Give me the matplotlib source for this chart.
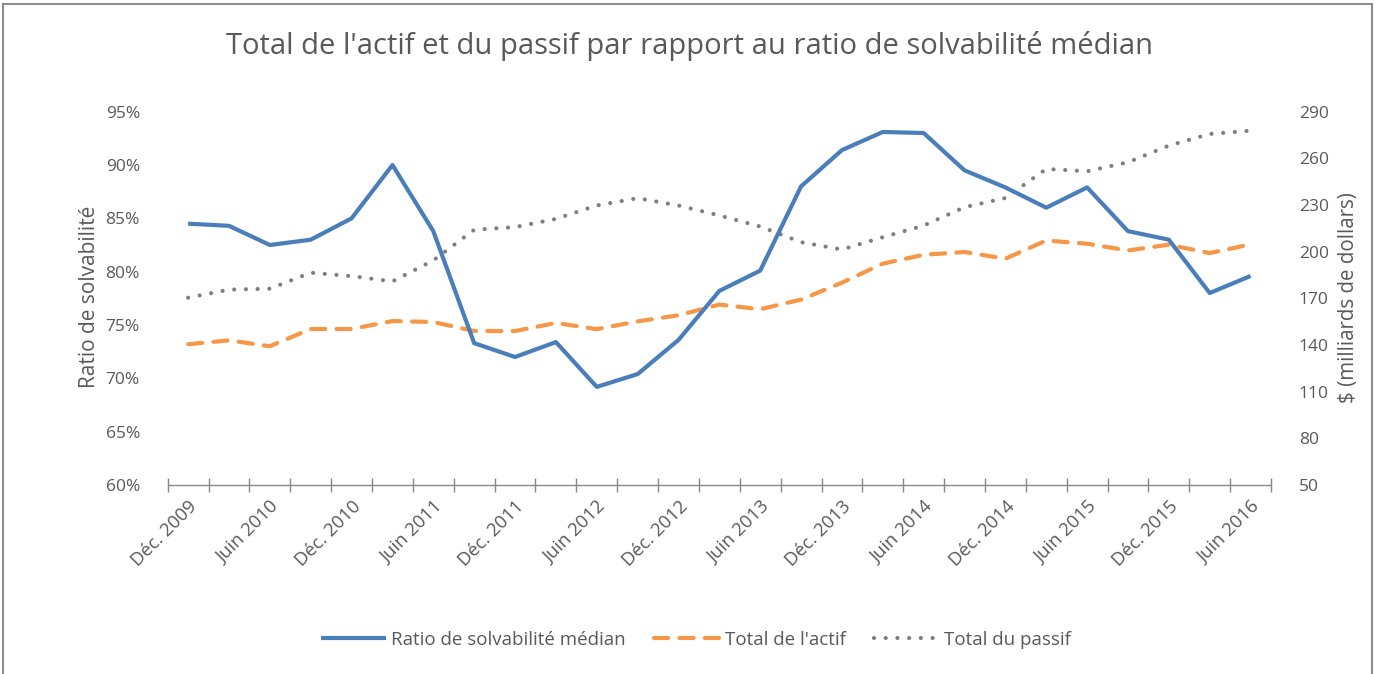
import matplotlib
matplotlib.use("Agg")
import matplotlib.pyplot as plt
from matplotlib.lines import Line2D

plt.rcParams['font.family'] = ['Open Sans', 'DejaVu Sans']

# ---- data ----
quarters = ["Déc. 2009", "Mars 2010", "Juin 2010", "Sept. 2010", "Déc. 2010", "Mars 2011",
            "Juin 2011", "Sept. 2011", "Déc. 2011", "Mars 2012", "Juin 2012", "Sept. 2012",
            "Déc. 2012", "Mars 2013", "Juin 2013", "Sept. 2013", "Déc. 2013", "Mars 2014",
            "Juin 2014", "Sept. 2014", "Déc. 2014", "Mars 2015", "Juin 2015", "Sept. 2015",
            "Déc. 2015", "Mars 2016", "Juin 2016"]
ratio = [84.5, 84.3, 82.5, 83.0, 85.0, 90.0, 83.8, 73.3, 72.0, 73.4, 69.2, 70.4,
         73.6, 78.2, 80.1, 88.0, 91.4, 93.1, 93.0, 89.5, 87.9, 86.0, 87.9, 83.8,
         83.0, 78.0, 79.6]
actif = [140.5, 143.0, 139.2, 150.3, 150.3, 155.4, 154.8, 149.0, 149.0, 154.2, 150.2, 155.2,
         159.1, 166.0, 163.0, 169.2, 180.1, 192.3, 198.0, 199.8, 195.5, 207.2, 205.1, 200.8,
         204.5, 199.1, 204.7]
passif = [170.4, 175.6, 176.2, 186.5, 184.3, 180.9, 194.4, 214.1, 215.8, 221.1, 229.7, 234.4,
          229.7, 223.3, 216.2, 206.1, 201.4, 209.3, 216.8, 228.6, 234.5, 253.2, 251.7, 257.5,
          268.2, 275.7, 277.8]
left_ticks = [60, 65, 70, 75, 80, 85, 90, 95]
right_ticks = [50, 80, 110, 140, 170, 200, 230, 260, 290]

title = "Total de l'actif et du passif par rapport au ratio de solvabilité médian"
names = ["Ratio de solvabilité médian", "Total de l'actif", "Total du passif"]

BLUE = "#4A7EBB"
ORANGE = "#F79646"
GRAY = "#7F7F7F"
TXT = "#595959"
AXC = "#898989"

W, H = 1375, 674
fig = plt.figure(figsize=(W / 100, H / 100), dpi=100)
fig.patch.set_facecolor("white")

x0, x1 = 167.7, 1271
ytop, ybot = 111.7, 485
ax = fig.add_axes([x0 / W, 1 - ybot / H, (x1 - x0) / W, (ybot - ytop) / H])
ax2 = ax.twinx()

xs = list(range(len(quarters)))
lw = 3.0
l1, = ax.plot(xs, ratio, color=BLUE, lw=lw, solid_joinstyle='round', solid_capstyle='butt', zorder=3)
l2, = ax2.plot(xs, actif, color=ORANGE, lw=lw, linestyle=(0, (3.4, 2.7)),
               dash_capstyle='round', dash_joinstyle='round')
l3, = ax2.plot(xs, passif, color=GRAY, lw=lw, linestyle=(0, (0.01, 2.8)),
               dash_capstyle='round')
ax.set_zorder(ax2.get_zorder() + 1)
ax.patch.set_visible(False)

ax.set_xlim(-0.5, len(quarters) - 0.5)
ax.set_ylim(60, 95)
ax2.set_ylim(50, 290)

ax.set_yticks(left_ticks)
ax.set_yticklabels([f"{v}%" for v in left_ticks])
ax2.set_yticks(right_ticks)
ax2.set_yticklabels([str(v) for v in right_ticks])

# category boundaries as tick marks, labels every other quarter
ax.set_xticks([i - 0.5 for i in range(len(quarters) + 1)])
ax.set_xticklabels([])
ax.tick_params(axis='x', which='major', direction='inout', length=10, width=1.0, color=AXC)
ax.set_xticks(xs[::2], minor=True)
ax.set_xticklabels(quarters[::2], minor=True, rotation=45, ha='right', va='top',
                   rotation_mode='anchor', fontsize=13.3, color=TXT)
ax.tick_params(axis='x', which='minor', length=0, pad=9)

for a in (ax, ax2):
    for s in ("top", "left", "right", "bottom"):
        a.spines[s].set_visible(False)
ax.spines["bottom"].set_visible(True)
ax.spines["bottom"].set_color(AXC)
ax.spines["bottom"].set_linewidth(1.0)

ax.tick_params(axis='y', length=0, labelsize=12.5, labelcolor=TXT, pad=20)
ax2.tick_params(axis='y', length=0, labelsize=12.5, labelcolor=TXT, pad=20)

ax.set_ylabel("Ratio de solvabilité", fontsize=15, color=TXT)
ax2.set_ylabel("$ (milliards de dollars)", fontsize=14.8, color=TXT)
ax.yaxis.set_label_coords(-0.0614, 0.505)
ax2.yaxis.set_label_coords(1.0607, 0.502)

fig.text(690 / W, 1 - 46 / H, title, ha='center', va='center', fontsize=21, color=TXT)

handles = [l1, l2, l3]
leg = fig.legend(handles, names, loc='center', bbox_to_anchor=(696 / W, 1 - 640 / H), ncol=3,
                 frameon=False, fontsize=13.5, handlelength=3.5, handletextpad=0.27,
                 columnspacing=1.5, labelcolor=TXT)

# outer chart frame
fc = "#8C8C8C"
fig.add_artist(Line2D([3 / W, 3 / W], [0, 1 - 4 / H], transform=fig.transFigure, color=fc, lw=1.5))
fig.add_artist(Line2D([3 / W, 1372 / W], [1 - 4 / H, 1 - 4 / H], transform=fig.transFigure, color=fc, lw=1.5))
fig.add_artist(Line2D([1372 / W, 1372 / W], [0, 1 - 4 / H], transform=fig.transFigure, color=fc, lw=1.5))

fig.savefig("out.png", dpi=100)
